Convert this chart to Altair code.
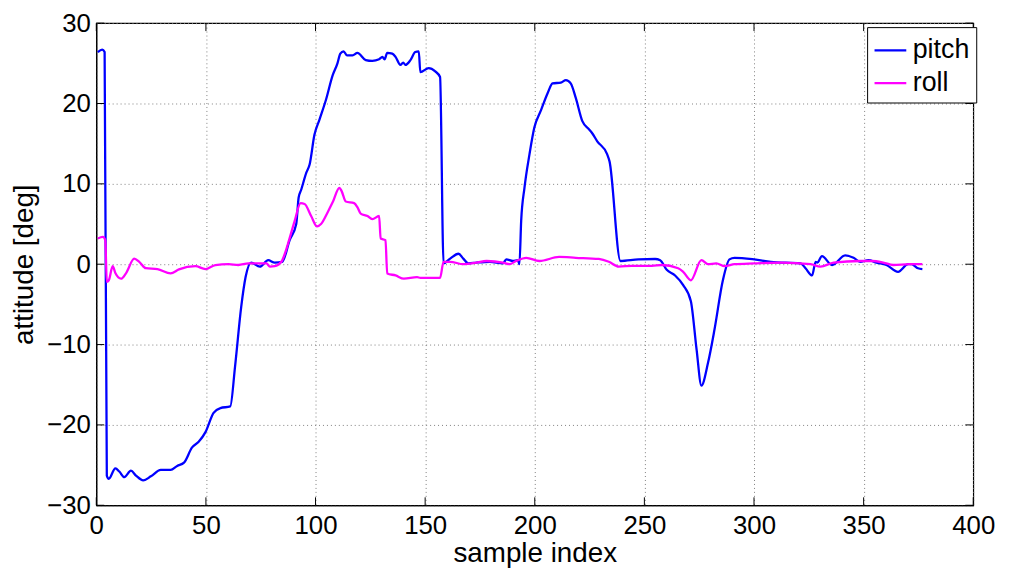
import altair as alt
import pandas as pd

pitch_idx = [0.7, 2.7, 3.8, 4.8, 5.7, 8.7, 10.5, 12.8, 15.8, 18.1, 21.4, 24.9, 29.4, 33.9, 36.9, 40.0,
             43.7, 46.7, 49.8, 53.5, 56.6, 61.1, 63.3, 66.1, 68.1, 70.6, 74.6, 78.4, 81.4, 84.8,
             88.2, 91.2, 92.3, 93.5, 95.8, 97.3, 99.5, 101.8, 104.8, 107.8, 110.0, 111.3, 112.8,
             114.3, 116.9, 119.1, 122.9, 125.9, 129.0, 130.5, 131.5, 132.7, 135.0, 136.5, 138.7,
             140.0, 141.0, 143.3, 145.5, 147.1, 147.8, 151.6, 154.6, 156.8, 158.4, 161.4, 165.2,
             167.4, 169.7, 173.4, 179.5, 185.5, 187.0, 190.0, 192.3, 193.0, 193.8, 195.3, 197.6,
             199.8, 202.9, 205.9, 208.1, 211.9, 214.2, 216.4, 218.7, 221.7, 224.7, 226.2, 228.5,
             233.0, 234.1, 239.1, 247.3, 254.9, 257.2, 260.2, 264.0, 267.7, 271.2, 273.8, 276.0,
             279.0, 282.0, 285.8, 288.8, 291.1, 300.1, 307.7, 321.3, 323.5, 326.5, 328.1, 328.8,
             331.0, 335.6, 341.6, 345.4, 348.4, 352.2, 355.9, 360.4, 365.7, 370.3, 371.8, 374.8, 376.8]
pitch_val = [26.4, 26.7, 26.4, -26.3, -26.7, -25.4, -25.8, -26.5, -25.7, -26.3, -26.9, -26.4, -25.6,
             -25.6, -25.1, -24.7, -22.8, -22.1, -20.9, -18.5, -17.9, -17.7, -12.7, -5.3, -1.6, 0.2,
             -0.3, 0.5, 0.2, 0.3, 3.0, 5.0, 8.3, 9.3, 11.4, 12.4, 16.1, 18.0, 20.5, 23.5, 25.0, 26.2,
             26.5, 26.0, 26.0, 26.3, 25.4, 25.3, 25.5, 25.8, 25.5, 26.3, 26.2, 25.8, 24.8, 25.1, 24.8,
             25.4, 26.4, 26.5, 23.9, 24.4, 24.0, 23.3, 0.1, 0.7, 1.3, 0.7, 0.1, 0.2, 0.3, 0.1, 0.6,
             0.4, 0.5, 0.0, 5.4, 9.5, 13.7, 17.0, 19.2, 21.3, 22.5, 22.6, 22.9, 22.5, 20.7, 17.8,
             16.8, 16.3, 15.3, 13.7, 12.8, 0.4, 0.6, 0.65, 0.5, -0.7, -1.4, -2.6, -4.6, -10.6, -15.1,
             -12.3, -8.1, -2.0, 0.6, 0.8, 0.6, 0.3, 0.1, -0.5, -1.4, 0.3, 0.2, 1.0, -0.1, 1.1, 0.8,
             0.3, 0.5, 0.2, -0.1, -0.95, 0.0, 0.0, -0.5, -0.6]

roll_idx = [0.7, 3.0, 4.1, 4.8, 5.7, 7.5, 8.7, 11.3, 13.6, 17.3, 19.6, 22.6, 27.9, 33.9, 37.7, 45.2,
            49.8, 54.3, 60.3, 64.8, 69.4, 77.6, 79.2, 81.4, 84.4, 86.0, 87.5, 90.5, 93.2, 95.0, 98.0,
            100.7, 102.5, 105.6, 107.8, 110.9, 111.9, 113.8, 117.6, 119.1, 120.6, 123.7, 125.9,
            129.0, 129.7, 131.9, 132.7, 136.5, 140.3, 146.3, 147.8, 156.8, 158.4, 161.4, 167.4,
            173.4, 178.0, 185.5, 188.5, 191.5, 196.1, 202.1, 211.1, 218.7, 229.2, 233.8, 238.3,
            244.3, 253.4, 257.9, 265.4, 267.7, 271.2, 276.0, 279.0, 282.8, 286.6, 291.1, 300.1,
            312.2, 325.8, 330.3, 336.3, 348.4, 353.7, 359.0, 363.5, 371.0, 376.8]
roll_val = [3.2, 3.4, 3.0, -2.2, -2.0, -0.25, -1.1, -1.8, -1.1, 0.7, 0.3, -0.5, -0.6, -1.15, -0.65,
            -0.25, -0.6, -0.1, 0.0, -0.1, 0.1, 0.1, -0.3, -0.25, 0.3, 1.3, 2.6, 5.4, 7.6, 7.5, 6.0,
            4.7, 5.0, 6.5, 7.7, 9.5, 9.1, 7.8, 7.6, 7.1, 6.3, 6.0, 5.6, 6.0, 3.2, 3.0, -1.15, -1.4,
            -1.8, -1.6, -1.7, -1.7, 0.3, 0.3, 0.0, 0.2, 0.4, 0.2, 0.0, 0.4, 0.8, 0.4, 0.9, 0.8, 0.65,
            0.3, -0.3, -0.2, -0.2, -0.1, -0.5, -0.95, -2.0, 0.5, 0.0, 0.1, -0.25, 0.0, 0.1, 0.2, 0.0,
            -0.3, 0.2, 0.4, 0.4, 0.2, -0.1, 0.0, 0.0]

series_names = ["pitch", "roll"]
series_colors = ["#0000ff", "#ff00ff"]
x_ticks = [0, 50, 100, 150, 200, 250, 300, 350, 400]
y_ticks = [-30, -20, -10, 0, 10, 20, 30]

df = pd.concat([
    pd.DataFrame({"series": "pitch", "idx": pitch_idx, "val": pitch_val, "ord": range(len(pitch_idx))}),
    pd.DataFrame({"series": "roll", "idx": roll_idx, "val": roll_val, "ord": range(len(roll_idx))}),
])
xt = pd.DataFrame({"t": x_ticks})
yt = pd.DataFrame({"t": y_ticks})

W, H = 884, 486
FONT = "Liberation Sans"

xscale = alt.Scale(domain=[0, 400], nice=False, zero=False)
yscale = alt.Scale(domain=[-30, 30], nice=False, zero=False)

lines = alt.Chart(df).mark_line(strokeWidth=2.3, clip=True, interpolate="monotone").encode(
    x=alt.X("idx:Q", scale=xscale,
            axis=alt.Axis(values=x_ticks, title="sample index", grid=True, ticks=False, tickSize=0,
                          labelPadding=7, labelFlush=False, titleY=57, titleBaseline="alphabetic",
                          gridDash=[1, 3], gridColor="#7f7f7f", gridOpacity=1)),
    y=alt.Y("val:Q", scale=yscale,
            axis=alt.Axis(values=y_ticks, title="attitude [deg]", grid=True, ticks=False, tickSize=0,
                          labelPadding=6, labelFlush=False, titleX=-64, titleBaseline="alphabetic",
                          gridDash=[1, 3], gridColor="#7f7f7f", gridOpacity=1)),
    color=alt.Color("series:N", scale=alt.Scale(domain=series_names, range=series_colors),
                    legend=alt.Legend(title=None, orient="none", legendX=777, legendY=4,
                                      symbolType="stroke", symbolSize=1024, symbolStrokeWidth=2.3,
                                      labelFontSize=27, labelFont=FONT, labelColor="black",
                                      labelOffset=5, padding=6, rowPadding=2,
                                      strokeColor="black", fillColor="white")),
    order="ord:Q",
)

tb = alt.Chart(xt).mark_rule(color="black", strokeWidth=1).encode(
    x=alt.X("t:Q", scale=xscale), y=alt.value(H), y2=alt.value(H - 8))
tt = alt.Chart(xt).mark_rule(color="black", strokeWidth=1).encode(
    x=alt.X("t:Q", scale=xscale), y=alt.value(0), y2=alt.value(8))
tl = alt.Chart(yt).mark_rule(color="black", strokeWidth=1).encode(
    y=alt.Y("t:Q", scale=yscale), x=alt.value(0), x2=alt.value(8))
tr = alt.Chart(yt).mark_rule(color="black", strokeWidth=1).encode(
    y=alt.Y("t:Q", scale=yscale), x=alt.value(W), x2=alt.value(W - 8))

chart = alt.layer(lines, tb, tt, tl, tr).properties(
    width=W, height=H,
    autosize=alt.AutoSizeParams(type="none"),
    padding={"left": 89, "top": 13, "right": 31, "bottom": 66},
).configure_view(
    stroke="black", strokeWidth=1.2
).configure_axis(
    labelFont=FONT, titleFont=FONT, labelFontSize=26, titleFontSize=28,
    labelColor="black", titleColor="black", titleFontWeight="normal",
    domainColor="black", domainWidth=1.2,
)

chart.save("out.html", embed_options={"renderer": "svg", "actions": False})
